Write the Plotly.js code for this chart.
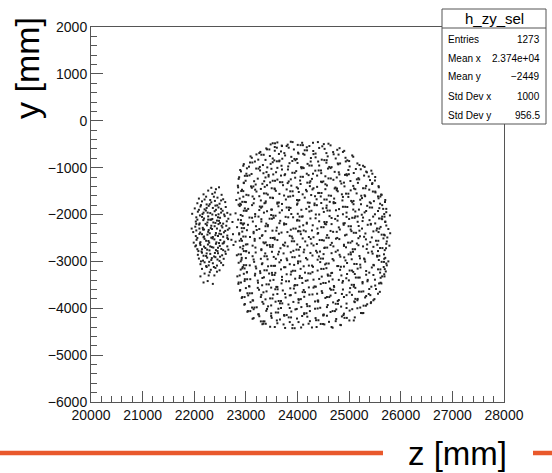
<!DOCTYPE html>
<html>
<head>
<meta charset="utf-8">
<script src="https://cdn.plot.ly/plotly-3.0.1.min.js"></script>
<style>html,body{margin:0;padding:0;background:#fff;}#plot{width:552px;height:473px;}</style>
</head>
<body>
<div id="plot"></div>
<script>
// ---- data (z [mm], y [mm]) ----
var diskPoints = [
[23480,-505],[23610,-462],[23695,-530],[23870,-448],[24005,-515],[24090,-470],[24230,-540],[24395,-455],[24510,-498],[24640,-525],[23790,-540],
[23280,-665],[23395,-590],[23560,-640],[23600,-575],[23745,-690],[23930,-612],[24010,-680],[24180,-566],[24305,-645],[24350,-700],[24525,-600],[24690,-668],[24815,-585],[24905,-642],
[23115,-790],[23205,-718],[23380,-835],[23465,-752],[23640,-708],[23705,-810],[23880,-770],[23960,-842],[24135,-725],[24260,-795],[24310,-712],[24470,-830],[24585,-760],[24740,-805],[24795,-722],[24965,-845],[25080,-768],[23550,-845],
[22960,-925],[23060,-980],[23175,-870],[23330,-945],[23415,-995],[23520,-885],[23690,-960],[23845,-905],[23900,-858],[24070,-990],[24195,-920],[24255,-870],[24420,-955],[24560,-895],[24615,-985],[24790,-930],[24935,-868],[25010,-975],[25160,-910],[25270,-960],
[22905,-1080],[23020,-1015],[23110,-1135],[23275,-1060],[23340,-1120],[23495,-1025],[23585,-1098],[23760,-1140],[23815,-1040],[23975,-1075],[24120,-1010],[24180,-1130],[24345,-1065],[24460,-1118],[24590,-1020],[24720,-1090],[24810,-1145],[24985,-1050],[25090,-1115],[25225,-1035],[25345,-1100],[25430,-1065],
[22870,-1205],[22995,-1280],[23070,-1165],[23230,-1235],[23355,-1290],[23440,-1190],[23610,-1255],[23680,-1170],[23830,-1295],[23955,-1215],[24050,-1275],[24215,-1160],[24280,-1240],[24455,-1300],[24540,-1185],[24695,-1260],[24760,-1210],[24920,-1155],[25025,-1285],[25180,-1225],[25290,-1170],[25405,-1265],[25505,-1200],
[22845,-1385],[22960,-1320],[23115,-1430],[23190,-1360],[23365,-1410],[23470,-1315],[23555,-1445],[23720,-1375],[23810,-1330],[23985,-1420],[24060,-1350],[24240,-1395],[24310,-1440],[24475,-1310],[24570,-1380],[24735,-1425],[24850,-1340],[24910,-1400],[25095,-1445],[25170,-1325],[25330,-1390],[25445,-1350],[25575,-1420],
[22850,-1535],[22925,-1470],[23050,-1590],[23205,-1510],[23290,-1455],[23425,-1575],[23580,-1495],[23650,-1560],[23790,-1465],[23915,-1600],[24025,-1520],[24165,-1475],[24265,-1585],[24400,-1540],[24540,-1460],[24605,-1595],[24780,-1505],[24860,-1570],[25030,-1485],[25145,-1550],[25235,-1600],[25390,-1470],[25510,-1530],[25630,-1580],
[22815,-1690],[22950,-1620],[23000,-1735],[23160,-1665],[23260,-1610],[23385,-1720],[23525,-1650],[23610,-1745],[23775,-1680],[23860,-1615],[24015,-1705],[24140,-1640],[24235,-1750],[24370,-1675],[24450,-1615],[24625,-1730],[24710,-1660],[24870,-1700],[24985,-1625],[25060,-1740],[25215,-1685],[25310,-1610],[25480,-1715],[25570,-1655],[25695,-1735],
[22880,-1820],[22890,-1770],[23045,-1880],[23120,-1800],[23295,-1855],[23360,-1760],[23505,-1895],[23630,-1825],[23700,-1775],[23865,-1860],[23990,-1790],[24075,-1900],[24225,-1835],[24330,-1765],[24490,-1870],[24565,-1810],[24730,-1755],[24805,-1885],[24965,-1840],[25085,-1780],[25190,-1895],[25350,-1815],[25420,-1760],[25585,-1865],[25640,-1800],[25720,-1880],
[22800,-1975],[22935,-2030],[23015,-1915],[23180,-1990],[23245,-2045],[23410,-1930],[23490,-2010],[23655,-1960],[23770,-2050],[23835,-1905],[24005,-1985],[24100,-2040],[24270,-1920],[24355,-2000],[24510,-1945],[24620,-2035],[24745,-1910],[24880,-1995],[24950,-2050],[25120,-1935],[25245,-2005],[25300,-1955],[25465,-2045],[25560,-1925],[25680,-1990],[25790,-2020],
[22905,-2120],[22900,-2185],[23070,-2065],[23135,-2150],[23300,-2100],[23395,-2195],[23540,-2070],[23665,-2135],[23740,-2190],[23915,-2060],[24000,-2115],[24180,-2175],[24250,-2085],[24420,-2145],[24530,-2200],[24660,-2075],[24775,-2130],[24915,-2185],[25000,-2095],[25165,-2155],[25270,-2065],[25395,-2120],[25505,-2190],[25640,-2100],[25700,-2160],
[22830,-2270],[22945,-2215],[23020,-2335],[23195,-2250],[23260,-2310],[23425,-2225],[23515,-2345],[23600,-2280],[23780,-2205],[23870,-2325],[24040,-2260],[24120,-2340],[24295,-2230],[24385,-2300],[24555,-2210],[24640,-2350],[24800,-2275],[24895,-2220],[25030,-2320],[25185,-2245],[25250,-2300],[25420,-2215],[25530,-2340],[25610,-2265],[25760,-2310],
[22870,-2425],[22930,-2365],[23080,-2480],[23150,-2400],[23310,-2455],[23380,-2355],[23555,-2495],[23640,-2410],[23805,-2375],[23890,-2470],[24065,-2420],[24160,-2360],[24310,-2485],[24400,-2395],[24575,-2440],[24690,-2370],[24770,-2500],[24950,-2430],[25045,-2355],[25210,-2465],[25315,-2405],[25440,-2490],[25570,-2375],[25690,-2445],[25795,-2400],
[22800,-2580],[22905,-2520],[23030,-2635],[23170,-2560],[23270,-2505],[23360,-2615],[23520,-2650],[23610,-2545],[23760,-2600],[23905,-2510],[23995,-2640],[24150,-2575],[24255,-2520],[24375,-2630],[24510,-2555],[24665,-2605],[24745,-2515],[24900,-2645],[25060,-2570],[25150,-2620],[25325,-2530],[25410,-2590],[25545,-2645],[25665,-2510],[25730,-2575],
[22940,-2730],[22950,-2670],[23005,-2785],[23185,-2705],[23300,-2760],[23410,-2655],[23505,-2795],[23670,-2720],[23745,-2665],[23920,-2775],[24050,-2695],[24130,-2750],[24310,-2660],[24435,-2790],[24520,-2715],[24695,-2680],[24780,-2765],[24940,-2700],[25075,-2795],[25180,-2655],[25340,-2735],[25470,-2690],[25560,-2780],[25715,-2720],[25780,-2665],
[22825,-2870],[22920,-2925],[23060,-2815],[23130,-2890],[23290,-2945],[23375,-2830],[23540,-2905],[23625,-2850],[23790,-2940],[23870,-2805],[24035,-2880],[24165,-2930],[24250,-2820],[24415,-2895],[24505,-2845],[24680,-2950],[24815,-2860],[24905,-2915],[25030,-2810],[25200,-2885],[25290,-2940],[25455,-2835],[25545,-2900],[25675,-2850],[25700,-2925],
[22860,-3030],[22915,-2965],[23075,-3085],[23160,-3010],[23310,-3060],[23420,-2955],[23565,-3095],[23650,-3020],[23800,-2975],[23935,-3075],[24010,-3040],[24190,-2960],[24280,-3090],[24440,-3015],[24535,-3065],[24700,-2980],[24790,-3100],[24960,-3035],[25050,-2955],[25215,-3070],[25310,-3005],[25480,-3085],[25575,-2970],[25720,-3045],[25760,-3000],
[22900,-3175],[22940,-3120],[23020,-3235],[23200,-3150],[23275,-3210],[23430,-3105],[23505,-3245],[23680,-3170],[23765,-3125],[23880,-3220],[24060,-3160],[24145,-3240],[24300,-3115],[24390,-3195],[24560,-3145],[24655,-3250],[24825,-3180],[24900,-3110],[25080,-3225],[25165,-3155],[25330,-3205],[25440,-3130],[25600,-3240],[25690,-3165],[25710,-3215],
[22835,-3320],[22960,-3265],[23085,-3380],[23175,-3300],[23320,-3355],[23450,-3260],[23535,-3395],[23700,-3330],[23790,-3275],[23955,-3370],[24045,-3310],[24210,-3255],[24310,-3390],[24470,-3325],[24585,-3280],[24680,-3385],[24850,-3300],[24945,-3360],[25110,-3270],[25205,-3345],[25360,-3395],[25470,-3290],[25610,-3350],[25680,-3275],
[22855,-3480],[22975,-3420],[23070,-3535],[23235,-3455],[23315,-3510],[23470,-3410],[23590,-3545],[23690,-3470],[23835,-3425],[23940,-3520],[24095,-3460],[24195,-3405],[24355,-3540],[24450,-3480],[24610,-3430],[24705,-3525],[24870,-3455],[24995,-3405],[25090,-3540],[25260,-3470],[25355,-3425],[25505,-3515],[25610,-3455],
[22885,-3625],[23000,-3570],[23120,-3680],[23255,-3605],[23340,-3660],[23490,-3560],[23610,-3695],[23715,-3620],[23860,-3575],[23960,-3670],[24120,-3610],[24220,-3555],[24380,-3690],[24470,-3635],[24630,-3580],[24735,-3675],[24880,-3600],[25010,-3660],[25120,-3565],[25275,-3640],[25380,-3695],[25520,-3590],[25595,-3650],
[22920,-3780],[23045,-3725],[23140,-3835],[23290,-3760],[23380,-3810],[23530,-3710],[23635,-3845],[23770,-3770],[23870,-3720],[24025,-3820],[24130,-3755],[24290,-3705],[24390,-3840],[24540,-3780],[24640,-3730],[24800,-3825],[24900,-3760],[25055,-3715],[25160,-3830],[25310,-3770],[25410,-3720],[25490,-3805],
[22970,-3925],[23090,-3870],[23210,-3980],[23340,-3905],[23430,-3960],[23575,-3860],[23680,-3995],[23825,-3920],[23920,-3865],[24075,-3975],[24180,-3910],[24340,-3855],[24440,-3990],[24585,-3930],[24690,-3875],[24845,-3965],[24950,-3900],[25100,-3855],[25215,-3985],[25350,-3915],[25425,-3870],
[23030,-4075],[23150,-4020],[23250,-4130],[23395,-4055],[23490,-4110],[23630,-4010],[23740,-4145],[23880,-4070],[23985,-4015],[24130,-4125],[24240,-4060],[24390,-4005],[24500,-4140],[24640,-4080],[24750,-4025],[24900,-4115],[25010,-4050],[25160,-4000],[25260,-4105],
[23130,-4225],[23260,-4170],[23360,-4280],[23500,-4205],[23600,-4260],[23745,-4160],[23850,-4295],[23990,-4220],[24090,-4165],[24240,-4275],[24350,-4210],[24500,-4155],[24610,-4290],[24750,-4230],[24860,-4175],[25005,-4260],[25110,-4195],
[23320,-4340],[23470,-4395],[23610,-4320],[23760,-4420],[23905,-4355],[24070,-4410],[24215,-4330],[24370,-4400],[24520,-4345],[24680,-4415],[24840,-4360]
];
var diskPoints2 = [
[23520,-480],[23565,-482],[23700,-540],[23905,-455],[24060,-520],[24105,-521],[24300,-470],[24480,-545],[24600,-490],[23810,-510],
[23260,-690],[23410,-610],[23455,-612],[23680,-655],[23830,-575],[24020,-700],[24140,-630],[24185,-631],[24420,-580],[24560,-690],[24770,-620],[24880,-665],[23560,-560],
[23090,-760],[23240,-830],[23300,-725],[23345,-726],[23520,-805],[23760,-740],[23940,-815],[23985,-816],[24110,-705],[24350,-780],[24520,-840],[24565,-841],[24700,-715],[24930,-790],[25060,-740],[23650,-850],
[22950,-960],[23080,-890],[23125,-891],[23270,-985],[23480,-920],[23600,-865],[23645,-866],[23820,-975],[24000,-900],[24230,-955],[24275,-956],[24400,-870],[24660,-990],[24780,-910],[24825,-911],[25000,-860],[25200,-945],[25300,-985],[24100,-995],
[22890,-1050],[23010,-1130],[23200,-1020],[23245,-1021],[23400,-1095],[23530,-1145],[23700,-1040],[23900,-1110],[23945,-1111],[24080,-1015],[24300,-1130],[24410,-1060],[24455,-1061],[24640,-1010],[24800,-1100],[24950,-1140],[24995,-1141],[25130,-1030],[25330,-1085],[25450,-1130],[23610,-1005],
[22860,-1240],[22980,-1175],[23025,-1176],[23160,-1290],[23380,-1210],[23520,-1280],[23565,-1281],[23750,-1160],[23870,-1250],[24060,-1195],[24105,-1196],[24250,-1290],[24380,-1170],[24600,-1230],[24645,-1231],[24830,-1290],[24960,-1165],[25150,-1250],[25195,-1251],[25380,-1190],[25500,-1275],[23440,-1155],[24500,-1295],
[22850,-1420],[22960,-1330],[23100,-1400],[23145,-1401],[23320,-1345],[23500,-1440],[23660,-1310],[23705,-1311],[23880,-1385],[24010,-1445],[24190,-1320],[24235,-1321],[24380,-1410],[24540,-1355],[24720,-1445],[24765,-1446],[24900,-1320],[25080,-1390],[25270,-1440],[25315,-1441],[25450,-1330],[25570,-1395],[23410,-1375],
[22910,-1500],[22950,-1501],[23010,-1580],[23180,-1470],[23350,-1550],[23395,-1551],[23560,-1460],[23740,-1595],[23860,-1505],[23905,-1506],[24100,-1570],[24290,-1465],[24420,-1540],[24465,-1541],[24650,-1600],[24760,-1480],[24940,-1555],[24985,-1556],[25120,-1460],[25300,-1590],[25460,-1510],[25505,-1511],[25620,-1575],[24180,-1505],
[22880,-1660],[22930,-1730],[22975,-1731],[23130,-1615],[23290,-1700],[23470,-1640],[23515,-1641],[23640,-1745],[23820,-1620],[23990,-1690],[24035,-1691],[24200,-1745],[24340,-1610],[24520,-1680],[24565,-1681],[24700,-1735],[24880,-1625],[25040,-1710],[25085,-1711],[25250,-1650],[25400,-1740],[25560,-1615],[25605,-1616],[25700,-1690],[23380,-1750],
[22860,-1790],[22905,-1791],[22980,-1870],[23150,-1760],[23270,-1830],[23315,-1831],[23490,-1895],[23610,-1770],[23790,-1850],[23835,-1851],[24000,-1765],[24170,-1880],[24330,-1800],[24375,-1801],[24560,-1860],[24700,-1760],[24880,-1835],[24925,-1836],[25080,-1895],[25230,-1780],[25400,-1850],[25445,-1851],[25600,-1770],[25660,-1880],[24460,-1755],
[22900,-2010],[22960,-1920],[23005,-1921],[23180,-2040],[23350,-1960],[23530,-2025],[23575,-2026],[23700,-1910],[23880,-1990],[24040,-2045],[24085,-2046],[24230,-1935],[24420,-2000],[24580,-1915],[24625,-1916],[24780,-2030],[24950,-1960],[25120,-2040],[25165,-2041],[25330,-1925],[25500,-1995],[25640,-2045],[25685,-2046],[25720,-1950],[23260,-1905],
[22850,-2110],[22920,-2190],[22965,-2191],[23120,-2070],[23300,-2150],[23460,-2090],[23505,-2091],[23650,-2185],[23820,-2060],[23990,-2130],[24035,-2131],[24180,-2195],[24350,-2080],[24520,-2160],[24565,-2161],[24730,-2095],[24890,-2190],[25060,-2070],[25105,-2071],[25260,-2140],[25420,-2200],[25580,-2085],[25625,-2086],[25700,-2150],
[22920,-2290],[22965,-2291],[23040,-2220],[23210,-2330],[23380,-2250],[23425,-2251],[23590,-2345],[23740,-2215],[23920,-2300],[23965,-2301],[24110,-2230],[24280,-2340],[24460,-2270],[24505,-2271],[24660,-2205],[24820,-2320],[24990,-2250],[25035,-2251],[25200,-2345],[25360,-2220],[25540,-2300],[25585,-2301],[25720,-2235],[24020,-2350],
[22870,-2400],[22950,-2470],[22995,-2471],[23150,-2370],[23320,-2440],[23480,-2500],[23525,-2501],[23690,-2385],[23850,-2455],[24010,-2360],[24055,-2361],[24220,-2480],[24390,-2410],[24560,-2495],[24605,-2496],[24760,-2370],[24920,-2445],[25090,-2390],[25135,-2391],[25290,-2475],[25470,-2360],[25630,-2430],[25675,-2431],[25740,-2490],
[22880,-2560],[22925,-2561],[23000,-2640],[23170,-2520],[23340,-2595],[23385,-2596],[23560,-2530],[23720,-2645],[23890,-2570],[23935,-2571],[24100,-2510],[24270,-2620],[24430,-2545],[24475,-2546],[24640,-2650],[24810,-2525],[24980,-2600],[25025,-2601],[25180,-2505],[25350,-2640],[25520,-2560],[25565,-2561],[25720,-2625],[23460,-2650],
[22890,-2700],[22960,-2780],[23005,-2781],[23130,-2665],[23300,-2740],[23470,-2690],[23515,-2691],[23640,-2795],[23810,-2680],[23980,-2750],[24025,-2751],[24190,-2660],[24360,-2775],[24530,-2705],[24575,-2706],[24740,-2795],[24900,-2670],[25070,-2740],[25115,-2741],[25270,-2680],[25440,-2790],[25600,-2715],[25645,-2716],[25690,-2760],
[22860,-2850],[22905,-2851],[23000,-2930],[23190,-2810],[23360,-2890],[23405,-2891],[23580,-2945],[23730,-2830],[23900,-2910],[23945,-2911],[24120,-2805],[24290,-2875],[24450,-2940],[24495,-2941],[24660,-2825],[24830,-2900],[24990,-2850],[25035,-2851],[25210,-2935],[25370,-2815],[25540,-2880],[25585,-2881],[25680,-2945],[24380,-2810],
[22900,-3000],[22960,-3080],[23005,-3081],[23150,-2960],[23320,-3040],[23490,-3095],[23535,-3096],[23680,-2975],[23850,-3060],[24010,-3000],[24055,-3001],[24220,-3090],[24390,-2965],[24560,-3045],[24605,-3046],[24770,-3100],[24930,-2980],[25100,-3055],[25145,-3056],[25300,-2960],[25470,-3075],[25630,-3010],[25675,-3011],[25730,-3085],
[22930,-3150],[22975,-3151],[23020,-3230],[23190,-3110],[23360,-3190],[23405,-3191],[23570,-3245],[23740,-3125],[23910,-3200],[23955,-3201],[24120,-3105],[24290,-3230],[24460,-3160],[24505,-3161],[24670,-3245],[24840,-3115],[25010,-3195],[25055,-3196],[25220,-3130],[25390,-3240],[25560,-3170],[25605,-3171],[25670,-3120],[23280,-3250],
[22880,-3300],[22980,-3380],[23025,-3381],[23180,-3265],[23350,-3340],[23510,-3290],[23555,-3291],[23700,-3395],[23870,-3280],[24040,-3355],[24085,-3356],[24250,-3260],[24420,-3375],[24590,-3305],[24635,-3306],[24800,-3395],[24960,-3270],[25130,-3345],[25175,-3346],[25330,-3285],[25500,-3390],[25640,-3320],[25685,-3321],
[22860,-3450],[22905,-3451],[23060,-3530],[23230,-3410],[23400,-3490],[23445,-3491],[23610,-3545],[23780,-3425],[23950,-3505],[23995,-3506],[24160,-3415],[24330,-3535],[24500,-3460],[24545,-3461],[24710,-3545],[24880,-3420],[25050,-3500],[25095,-3501],[25260,-3440],[25430,-3540],[25580,-3470],[25625,-3471],
[22890,-3610],[23030,-3680],[23075,-3681],[23230,-3565],[23400,-3640],[23570,-3595],[23615,-3596],[23760,-3695],[23930,-3580],[24100,-3655],[24145,-3656],[24310,-3560],[24480,-3675],[24650,-3605],[24695,-3606],[24860,-3695],[25020,-3570],[25190,-3645],[25235,-3646],[25390,-3590],[25560,-3690],
[22930,-3760],[22975,-3761],[23130,-3830],[23300,-3715],[23470,-3790],[23515,-3791],[23680,-3845],[23850,-3725],[24020,-3805],[24065,-3806],[24230,-3710],[24400,-3835],[24570,-3760],[24615,-3761],[24780,-3845],[24950,-3720],[25120,-3800],[25165,-3801],[25330,-3740],[25470,-3830],
[22980,-3910],[23120,-3985],[23165,-3986],[23320,-3865],[23490,-3940],[23660,-3895],[23705,-3896],[23850,-3995],[24020,-3880],[24190,-3955],[24235,-3956],[24400,-3860],[24570,-3975],[24740,-3905],[24785,-3906],[24950,-3995],[25110,-3870],[25280,-3945],[25325,-3946],[25420,-3890],
[23040,-4060],[23085,-4061],[23240,-4130],[23410,-4015],[23580,-4090],[23625,-4091],[23790,-4145],[23960,-4025],[24130,-4105],[24175,-4106],[24340,-4010],[24510,-4135],[24680,-4060],[24725,-4061],[24890,-4145],[25060,-4020],[25230,-4100],[25275,-4101],
[23150,-4210],[23290,-4280],[23335,-4281],[23490,-4165],[23660,-4240],[23830,-4195],[23875,-4196],[24020,-4295],[24190,-4180],[24360,-4255],[24405,-4256],[24570,-4160],[24740,-4275],[24910,-4205],[24955,-4206],[25090,-4260],
[23340,-4330],[23385,-4331],[23560,-4400],[23730,-4345],[23900,-4425],[23945,-4426],[24110,-4350],[24280,-4410],[24450,-4335],[24495,-4336],[24660,-4400],[24830,-4355]
];
var spotPoints = [
[22330,-1430],[22420,-1460],[22480,-1420],[22270,-1490],
[22180,-1570],[22400,-1530],[22530,-1580],
[22090,-1660],[22230,-1620],[22310,-1690],[22450,-1640],[22560,-1675],
[22060,-1760],[22150,-1720],[22240,-1785],[22330,-1740],[22400,-1710],[22490,-1770],[22600,-1735],
[22010,-1870],[22120,-1830],[22200,-1890],[22280,-1815],[22360,-1860],[22445,-1805],[22520,-1880],[22610,-1840],
[22070,-1940],[22160,-1990],[22225,-1915],[22310,-1970],[22395,-1930],[22470,-1995],[22550,-1920],[22640,-1965],[21960,-1985],
[22040,-2060],[22110,-2020],[22190,-2085],[22270,-2040],[22350,-2095],[22420,-2015],[22500,-2070],[22590,-2035],[22660,-2090],
[22030,-2150],[22105,-2190],[22175,-2120],[22255,-2170],[22330,-2110],[22410,-2180],[22480,-2135],[22560,-2195],[22630,-2145],[22740,-2160],
[22020,-2260],[22095,-2215],[22165,-2285],[22245,-2230],[22320,-2290],[22395,-2250],[22470,-2205],[22545,-2275],[22620,-2240],[22680,-2295],
[22040,-2340],[22115,-2385],[22190,-2320],[22270,-2370],[22345,-2310],[22420,-2395],[22500,-2345],[22575,-2380],[22650,-2325],[21980,-2375],
[22030,-2460],[22100,-2415],[22180,-2485],[22255,-2430],[22330,-2495],[22410,-2440],[22485,-2410],[22560,-2475],[22640,-2450],[22750,-2420],
[22045,-2540],[22120,-2590],[22200,-2520],[22275,-2565],[22355,-2510],[22430,-2595],[22505,-2545],[22580,-2580],[22655,-2525],
[22035,-2660],[22110,-2615],[22190,-2685],[22265,-2640],[22340,-2695],[22420,-2625],[22495,-2670],[22570,-2610],[22640,-2680],[22760,-2650],
[22060,-2740],[22140,-2790],[22215,-2715],[22295,-2765],[22370,-2705],[22450,-2780],[22525,-2735],[22600,-2790],
[22070,-2860],[22150,-2815],[22230,-2885],[22310,-2840],[22385,-2895],[22460,-2825],[22540,-2870],[22610,-2840],
[22090,-2940],[22170,-2985],[22250,-2920],[22330,-2970],[22410,-2910],[22490,-2990],[22570,-2945],
[22120,-3060],[22200,-3020],[22280,-3085],[22360,-3040],[22440,-3090],[22520,-3030],
[22150,-3160],[22240,-3120],[22320,-3180],[22410,-3140],[22490,-3190],
[22200,-3260],[22300,-3230],[22390,-3300],[22120,-3320],
[22260,-3420],[22360,-3480],[22180,-3450],
[22130,-1800],[22300,-1780],[22470,-1850],[22090,-1900],[22260,-1960],[22420,-1900],[22580,-2000],[22150,-2050],[22310,-2110],[22460,-2060],
[22060,-2110],[22220,-2200],[22370,-2170],[22530,-2240],[22100,-2300],[22280,-2330],[22440,-2300],[22600,-2350],[22150,-2420],[22300,-2400],
[22460,-2460],[22060,-2500],[22230,-2560],[22390,-2530],[22550,-2620],[22120,-2650],[22290,-2600],[22460,-2710],[22080,-2780],[22250,-2750],
[22400,-2820],[22560,-2760],[22180,-2880],[22340,-2930],[22500,-2900],[22130,-3000],[22290,-3010],[22450,-2960],[22230,-3100],[22380,-3120],
[22560,-3080],[22200,-1680],[22380,-1620],[22520,-1700],[22040,-2200],[22640,-2500],[22660,-2750],[22020,-2680],[22350,-1560],[22440,-3220],
[22280,-3300],[22170,-2320],[22330,-2240],[22500,-2180],[22190,-2470],[22360,-2480],[22520,-2420],[22150,-2740],[22310,-2680],[22480,-2610],
[22240,-2830],[22420,-2760],[22270,-2110],[22440,-2130],[22180,-1960],[22350,-2000],[22520,-1960],[22240,-1860],[22410,-1810],[21950,-2300],
[21990,-2600],[22720,-2540],[22700,-2000]
];
var histName = "h_zy_sel";
var statsLabels = ["Entries", "Mean x", "Mean y", "Std Dev x", "Std Dev y"];
var statsValues = ["1273", "2.374e+04", "\u22122449", "1000", "956.5"];
var xTitle = "z [mm]";
var yTitle = "y [mm]";
var xRange = [20000, 28000];
var yRange = [-6000, 2000];

// ---- build ----
var allPts = diskPoints.concat(diskPoints2, spotPoints);
var trace = {
  type: "scatter", mode: "markers",
  x: allPts.map(function(p){return p[0];}),
  y: allPts.map(function(p){return p[1];}),
  marker: {symbol: "square", size: 2, color: "#222", line: {width: 0}},
  hoverinfo: "none", showlegend: false
};

var FONT = "Liberation Sans, Arial, Helvetica, sans-serif";
var L = 91, R = 48, T = 27, B = 71, W = 552, H = 473;
var PW = W - L - R, PH = H - T - B;
function px(x){ return (x - L) / PW; }
function py(y){ return (H - B - y) / PH; }

var annotations = [
  {xref:"paper", yref:"paper", x:px(494), y:py(18.5), text:histName, showarrow:false,
   xanchor:"center", yanchor:"middle", font:{family:FONT, size:15, color:"#000"}},
  {xref:"paper", yref:"paper", x:px(457), y:py(453), text:xTitle, showarrow:false,
   xanchor:"center", yanchor:"middle", font:{family:FONT, size:33, color:"#000"}},
  {xref:"paper", yref:"paper", x:px(27), y:py(68), text:yTitle, showarrow:false, textangle:-90,
   xanchor:"center", yanchor:"middle", font:{family:FONT, size:34, color:"#000"}}
];
var rowY = [39, 58, 77, 97, 116];
for (var i = 0; i < statsLabels.length; i++) {
  annotations.push({xref:"paper", yref:"paper", x:px(446), y:py(rowY[i]), text:statsLabels[i],
    showarrow:false, xanchor:"left", yanchor:"middle", font:{family:FONT, size:10, color:"#000"}});
  annotations.push({xref:"paper", yref:"paper", x:px(542), y:py(rowY[i]), text:statsValues[i],
    showarrow:false, xanchor:"right", yanchor:"middle", font:{family:FONT, size:10, color:"#000"}});
}

var ORANGE = "#e9592c";
var shapes = [
  {type:"rect", xref:"paper", yref:"paper", x0:px(442), x1:px(546), y0:py(124), y1:py(9),
   line:{color:"#555", width:1}, fillcolor:"#fff", layer:"above"},
  {type:"line", xref:"paper", yref:"paper", x0:px(442), x1:px(546), y0:py(28), y1:py(28),
   line:{color:"#555", width:1}, layer:"above"},
  {type:"line", xref:"paper", yref:"paper", x0:px(0), x1:px(383), y0:py(453), y1:py(453),
   line:{color:ORANGE, width:4.5}, layer:"above"},
  {type:"line", xref:"paper", yref:"paper", x0:px(533), x1:px(552), y0:py(453), y1:py(453),
   line:{color:ORANGE, width:4.5}, layer:"above"}
];

var axisCommon = {
  showgrid:false, zeroline:false, showline:true, mirror:true, linecolor:"#555", linewidth:1,
  ticks:"inside", ticklen:12, tickwidth:1, tickcolor:"#555", dtick:1000,
  minor:{ticks:"inside", ticklen:6, tickwidth:1, tickcolor:"#555", dtick:200, showgrid:false},
  tickfont:{family:FONT, size:14, color:"#111"}
};
var layout = {
  width:W, height:H,
  margin:{l:L, r:R, t:T, b:B, pad:0},
  paper_bgcolor:"#fff", plot_bgcolor:"#fff",
  xaxis: Object.assign({}, axisCommon, {range:xRange, tick0:20000, tickformat:"d", ticklen:11}),
  yaxis: Object.assign({}, axisCommon, {range:yRange, tick0:-6000}),
  annotations: annotations,
  shapes: shapes,
  showlegend:false
};
Plotly.newPlot("plot", [trace], layout, {staticPlot:true, displayModeBar:false});
</script>
</body>
</html>
